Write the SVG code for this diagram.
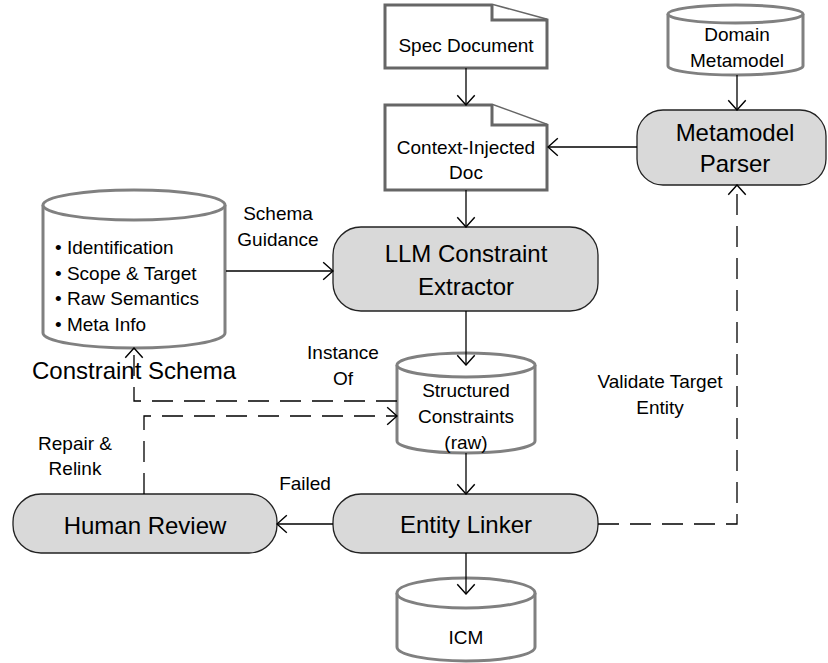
<svg xmlns="http://www.w3.org/2000/svg" width="828" height="663" viewBox="0 0 828 663">
<defs>
<marker id="arr" markerUnits="userSpaceOnUse" markerWidth="12" markerHeight="20" viewBox="-10 -9 11 18" refX="0" refY="0" orient="auto">
<path d="M-9,-8 L0,0 L-9,8" fill="none" stroke="#000" stroke-width="1.3"/>
</marker>
</defs>
<style>
text{font-family:"Liberation Sans",Arial,sans-serif;fill:#000;text-anchor:middle}
.s{font-size:19px}
.b{font-size:24px}
.doc{fill:#fff;stroke:#666;stroke-width:3;stroke-linejoin:miter}
.cyl{fill:#fff;stroke:#808080;stroke-width:3}
.proc{fill:#d9d9d9;stroke:#222;stroke-width:1.3}
.c{fill:none;stroke:#000;stroke-width:1.3;marker-end:url(#arr)}
.d{stroke-dasharray:21 11}
</style>
<rect width="828" height="663" fill="#fff"/>
<g id="spec-document">
<path class="doc" d="M385,5 H492 L547,20 V68 H385 Z"/>
<path class="doc" d="M492,5 V20 H547" fill="none"/>
<text class="s" x="466" y="52">Spec Document</text>
</g>
<g id="context-injected-doc">
<path class="doc" d="M385,105 H492 L547,125 V190 H385 Z"/>
<path class="doc" d="M492,105 V125 H547" fill="none"/>
<text class="s" x="466" y="154">Context-Injected</text>
<text class="s" x="466" y="179">Doc</text>
</g>
<g id="domain-metamodel">
<path class="cyl" d="M668,14 V66 A67.5,9 0 0 0 803,66 V14"/>
<ellipse class="cyl" cx="735.5" cy="14" rx="67.5" ry="9"/>
<text class="s" x="737" y="41">Domain</text>
<text class="s" x="737" y="67">Metamodel</text>
</g>
<g id="metamodel-parser">
<rect class="proc" x="637" y="110" width="189" height="75" rx="26"/>
<text class="b" x="735" y="141">Metamodel</text>
<text class="b" x="735" y="172">Parser</text>
</g>
<g id="constraint-schema">
<path class="cyl" d="M43,205 V333 A91,15 0 0 0 225,333 V205"/>
<ellipse class="cyl" cx="134" cy="205" rx="91" ry="15"/>
<text class="s" x="55" y="254" style="text-anchor:start">• Identification</text>
<text class="s" x="55" y="280" style="text-anchor:start">• Scope &amp; Target</text>
<text class="s" x="55" y="305" style="text-anchor:start">• Raw Semantics</text>
<text class="s" x="55" y="331" style="text-anchor:start">• Meta Info</text>
<text class="b" x="32" y="379" style="text-anchor:start">Constraint Schema</text>
</g>
<g id="llm-constraint-extractor">
<rect class="proc" x="333" y="227" width="265" height="84" rx="28"/>
<text class="b" x="466" y="262">LLM Constraint</text>
<text class="b" x="466" y="295">Extractor</text>
</g>
<g id="structured-constraints">
<path class="cyl" d="M397,365 V441 A69,12 0 0 0 535,441 V365"/>
<ellipse class="cyl" cx="466" cy="365" rx="69" ry="12"/>
<text class="s" x="466" y="397">Structured</text>
<text class="s" x="466" y="423">Constraints</text>
<text class="s" x="466" y="449">(raw)</text>
</g>
<g id="entity-linker">
<rect class="proc" x="333" y="494" width="265" height="59" rx="28"/>
<text class="b" x="466" y="533">Entity Linker</text>
</g>
<g id="human-review">
<rect class="proc" x="13" y="494" width="264" height="59" rx="28"/>
<text class="b" x="145" y="534">Human Review</text>
</g>
<g id="icm">
<path class="cyl" d="M397,593 V647 A69,14 0 0 0 535,647 V593"/>
<ellipse class="cyl" cx="466" cy="593" rx="69" ry="15"/>
<text class="s" x="466" y="644">ICM</text>
</g>
<g id="connectors">
<path class="c" d="M466,68 V105"/>
<path class="c" d="M737,75 V110"/>
<path class="c" d="M637,147 H548"/>
<path class="c" d="M466,190 V227"/>
<path class="c" d="M226,271 H333"/>
<path class="c" d="M466,311 V365"/>
<path class="c d" d="M397,401 H134 V348"/>
<path class="c d" d="M144,494 V416 H397"/>
<path class="c" d="M466,453 V494"/>
<path class="c" d="M333,524 H277"/>
<path class="c" d="M466,553 V594"/>
<path class="c d" d="M598,524 H737 V185"/>
<text class="s" x="278" y="220">Schema</text>
<text class="s" x="278" y="246">Guidance</text>
<text class="s" x="343" y="359">Instance</text>
<text class="s" x="343" y="385">Of</text>
<text class="s" x="660" y="388">Validate Target</text>
<text class="s" x="660" y="414">Entity</text>
<text class="s" x="75" y="450">Repair &amp;</text>
<text class="s" x="75" y="475">Relink</text>
<text class="s" x="305" y="490">Failed</text>
</g>
</svg>
